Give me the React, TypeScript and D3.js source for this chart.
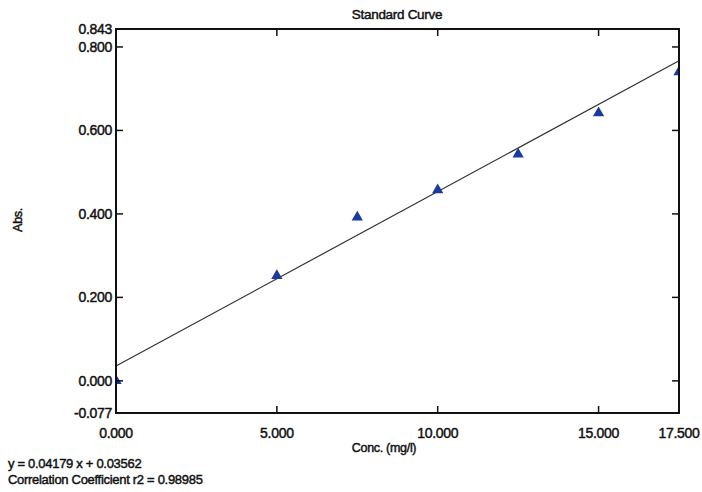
import React, { useEffect, useRef } from 'react';
import * as d3 from 'd3';

// standard curve readings
const concentrations = [0, 5, 7.5, 10, 12.5, 15, 17.5];
const absorbances = [0.0, 0.252, 0.392, 0.457, 0.543, 0.642, 0.74];
const xTicks = [0, 5, 10, 15, 17.5];
const yTicks = [-0.077, 0, 0.2, 0.4, 0.6, 0.8, 0.843];
const slope = 0.04179;
const intercept = 0.03562;
const r2 = 0.98985;

const App = () => {
    const svgRef = useRef<SVGSVGElement>(null);

    useEffect(() => {
        document.body.style.margin = '0';
        const width = 702;
        const height = 492;
        const margin = { top: 29, right: 23, bottom: 79, left: 116 };
        const w = width - margin.left - margin.right;
        const h = height - margin.top - margin.bottom;
        const font = 'Arial, "Liberation Sans", sans-serif';

        const root = d3.select(svgRef.current);
        root.selectAll('*').remove();
        root.attr('width', width).attr('height', height);
        root.append('rect').attr('width', width).attr('height', height).attr('fill', '#fff');

        root.append('defs').append('clipPath')
            .attr('id', 'plot-clip')
            .append('rect')
            .attr('width', w)
            .attr('height', h);

        const svg = root.append('g').attr('transform', `translate(${margin.left},${margin.top})`);

        const x = d3.scaleLinear().domain([0, 17.5]).range([0, w]);
        const y = d3.scaleLinear().domain([-0.077, 0.843]).range([h, 0]);

        // printout uses a plain hyphen for the minus sign
        const fmt = (d: number) => d3.format('.3f')(d).replace('\u2212', '-');

        const labelStyle = (sel: any) => sel
            .attr('font-family', font)
            .attr('font-size', 14)
            .attr('letter-spacing', -0.3)
            .attr('fill', '#111')
            .attr('stroke', '#111')
            .attr('stroke-width', 0.45);

        // regression line
        const line = d3.line<number>()
            .x(d => x(d))
            .y(d => y(slope * d + intercept));
        svg.append('path')
            .datum([0, 17.5])
            .attr('d', line)
            .attr('fill', 'none')
            .attr('stroke', '#333')
            .attr('stroke-width', 1.2);

        // data points, clipped to the plot area
        const tri = d3.symbol().type(d3.symbolTriangle).size(55);
        svg.append('g')
            .attr('clip-path', 'url(#plot-clip)')
            .selectAll('path')
            .data(concentrations)
            .enter().append('path')
            .attr('d', tri)
            .attr('transform', (d, i) => `translate(${x(d)},${y(absorbances[i])})`)
            .attr('fill', '#1b3a9e');

        // frame
        svg.append('rect')
            .attr('width', w)
            .attr('height', h)
            .attr('fill', 'none')
            .attr('stroke', '#111')
            .attr('stroke-width', 2);

        // inward ticks on all four sides (skip the ends)
        const innerX = xTicks.filter(d => d > 0 && d < 17.5);
        const innerY = yTicks.filter(d => d > -0.077 && d < 0.843);
        const tickLen = 7;
        innerX.forEach(d => {
            svg.append('line').attr('x1', x(d)).attr('x2', x(d)).attr('y1', h).attr('y2', h - tickLen)
                .attr('stroke', '#111').attr('stroke-width', 1.5);
            svg.append('line').attr('x1', x(d)).attr('x2', x(d)).attr('y1', 0).attr('y2', tickLen)
                .attr('stroke', '#111').attr('stroke-width', 1.5);
        });
        innerY.forEach(d => {
            svg.append('line').attr('x1', 0).attr('x2', tickLen).attr('y1', y(d)).attr('y2', y(d))
                .attr('stroke', '#111').attr('stroke-width', 1.5);
            svg.append('line').attr('x1', w).attr('x2', w - tickLen).attr('y1', y(d)).attr('y2', y(d))
                .attr('stroke', '#111').attr('stroke-width', 1.5);
        });

        // y tick labels
        svg.selectAll('.ylab')
            .data(yTicks)
            .enter().append('text')
            .attr('x', -4)
            .attr('y', d => y(d))
            .attr('dy', '0.35em')
            .attr('text-anchor', 'end')
            .text(d => fmt(d))
            .call(labelStyle);

        // x tick labels
        svg.selectAll('.xlab')
            .data(xTicks)
            .enter().append('text')
            .attr('x', d => x(d))
            .attr('y', h + 25)
            .attr('text-anchor', 'middle')
            .text(d => fmt(d))
            .call(labelStyle);

        // title
        root.append('text')
            .attr('x', 397)
            .attr('y', 19)
            .attr('text-anchor', 'middle')
            .text('Standard Curve')
            .call(labelStyle)
            .attr('font-size', 13.5);

        // axis titles
        root.append('text')
            .attr('x', 384)
            .attr('y', 452)
            .attr('text-anchor', 'middle')
            .text('Conc. (mg/l)')
            .call(labelStyle)
            .attr('font-size', 12.5);

        root.append('text')
            .attr('transform', `translate(22, 220) rotate(-90)`)
            .attr('text-anchor', 'middle')
            .text('Abs.')
            .call(labelStyle)
            .attr('font-size', 12.5);

        // equation
        root.append('text')
            .attr('x', 8)
            .attr('y', 468)
            .text(`y = ${slope} x + ${intercept}`)
            .call(labelStyle)
            .attr('font-size', 13);
        root.append('text')
            .attr('x', 8)
            .attr('y', 484)
            .text(`Correlation Coefficient r2 = ${r2}`)
            .call(labelStyle)
            .attr('font-size', 13);
    }, []);

    return <svg ref={svgRef} style={{ display: 'block' }}></svg>;
};

export default App;
